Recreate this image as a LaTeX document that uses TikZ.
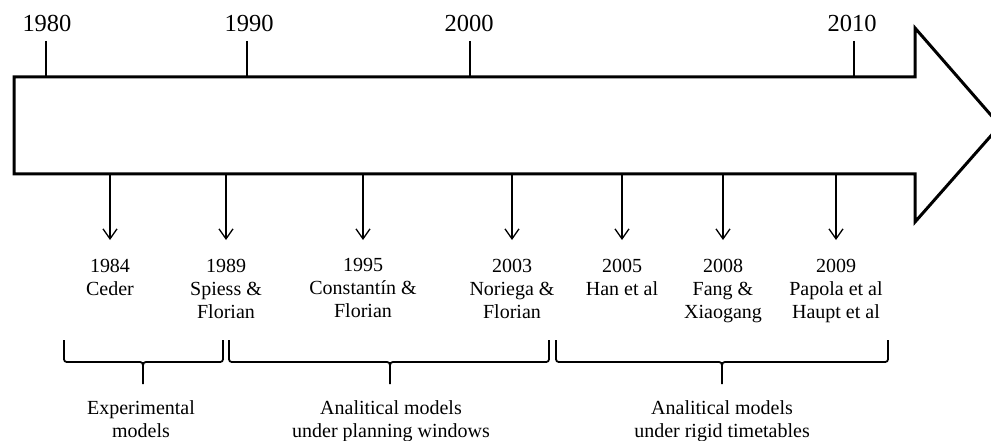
\documentclass[tikz,border=0pt]{standalone}
\usepackage{fontspec}
\setmainfont{Liberation Serif}
\usetikzlibrary{arrows.meta}
\begin{document}
\begin{tikzpicture}[x=1pt,y=-1pt,
  outline/.style={line width=3pt, line join=miter},
  tick/.style={line width=1.3pt},
  pointer/.style={line width=1.3pt, -{Straight Barb[length=10pt,width=14pt,line width=1.3pt]}},
  brace/.style={line width=1.8pt, line join=round},
  yearlabel/.style={font=\fontsize{24.5}{28}\selectfont, inner sep=0pt, anchor=base},
  entry/.style={font=\fontsize{20}{23}\selectfont, align=center, inner sep=0pt, anchor=north}]
\useasboundingbox (0,0) rectangle (991,441);
\clip (0,0) rectangle (991,441);

% the big timeline arrow
\draw[outline] (14,77) -- (915,77) -- (915,28) -- (1000,125.5) -- (915,222)
  -- (915,174) -- (14,174) -- cycle;
\coordinate (top) at (0,77);
\coordinate (bottom) at (0,174);

% decade marks above the arrow
\node[yearlabel] (y1980) at (47,32) {1980};
\node[yearlabel] (y1990) at (249,32) {1990};
\node[yearlabel] (y2000) at (469,32) {2000};
\node[yearlabel] (y2010) at (852,32) {2010};
\foreach \n/\x in {y1980/46, y1990/247, y2000/470, y2010/854}{
  \coordinate (\n-a) at (\x,41);
  \draw[tick] (\n-a) -- (\n-a |- top);
}

% publications below the arrow
\node[entry] (e1984) at (110,258.5) {1984\\Ceder};
\node[entry] (e1989) at (226,258.5) {1989\\Spiess \&\\Florian};
\node[entry] (e1995) at (363,258.5) {1995\\Constantín \&\\Florian};
\node[entry] (e2003) at (512,258.5) {2003\\Noriega \&\\Florian};
\node[entry] (e2005) at (622,258.5) {2005\\Han et al};
\node[entry] (e2008) at (723,258.5) {2008\\Fang \&\\Xiaogang};
\node[entry] (e2009) at (836,258.5) {2009\\Papola et al\\Haupt et al};
\foreach \n in {e1984,e1989,e1995,e2003,e2005,e2008,e2009}{
  \draw[pointer, shorten >=18.5pt] (\n.north |- bottom) -- (\n.north);
}

% grouping braces
\draw[brace] (64,340) -- (64,356) .. controls (64,362) .. (70,362) -- (137,362)
  .. controls (143,362) .. (143,369) -- (143,384);
\draw[brace] (223,340) -- (223,356) .. controls (223,362) .. (217,362) -- (149,362)
  .. controls (143,362) .. (143,369);
\draw[brace] (229,340) -- (229,356) .. controls (229,362) .. (235,362) -- (384,362)
  .. controls (390,362) .. (390,369) -- (390,384);
\draw[brace] (549,340) -- (549,356) .. controls (549,362) .. (543,362) -- (396,362)
  .. controls (390,362) .. (390,369);
\draw[brace] (556,340) -- (556,356) .. controls (556,362) .. (562,362) -- (716,362)
  .. controls (722,362) .. (722,369) -- (722,384);
\draw[brace] (888,340) -- (888,356) .. controls (888,362) .. (882,362) -- (728,362)
  .. controls (722,362) .. (722,369);

% group names
\node[entry] (g1) at (141,400) {Experimental\\models};
\node[entry] (g2) at (391,400) {Analitical models\\under planning windows};
\node[entry] (g3) at (722,400) {Analitical models\\under rigid timetables};
\end{tikzpicture}
\end{document}
